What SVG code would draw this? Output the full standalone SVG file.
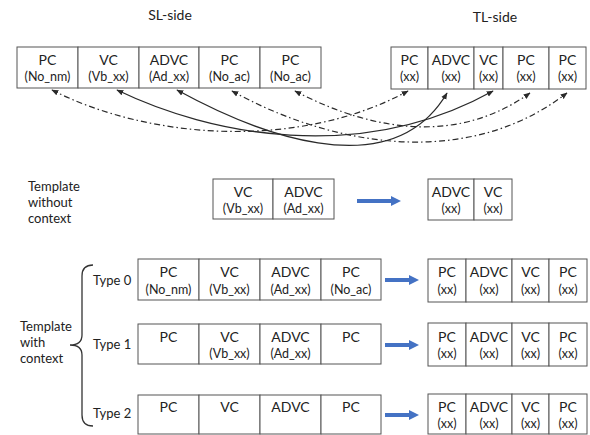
<svg xmlns="http://www.w3.org/2000/svg" width="590" height="435" viewBox="0 0 590 435">
<style>
  text { font-family: Lato, "Open Sans", "Liberation Sans", sans-serif; fill: #222; }
  .t1 { font-size: 14px; text-anchor: middle; }
  .t2 { font-size: 12.5px; text-anchor: middle; }
  .lbl { font-size: 13px; }
  .head { font-size: 14px; text-anchor: middle; }
  .cell { fill: #fff; stroke: #555; stroke-width: 1; }
  .solid { fill: none; stroke: #2a2a2a; stroke-width: 1.3; marker-start: url(#ah); marker-end: url(#ah); }
  .dd { fill: none; stroke: #2a2a2a; stroke-width: 1.2; stroke-dasharray: 6 3 1.5 3; marker-start: url(#ah); marker-end: url(#ah); }
  .blue { stroke: #4472C4; stroke-width: 4; fill: none; marker-end: url(#bh); }
  .brace { fill: none; stroke: #333; stroke-width: 1.3; }
</style>
<defs>
  <marker id="ah" viewBox="0 0 10 10" refX="9" refY="5" markerWidth="7" markerHeight="7" markerUnits="userSpaceOnUse" orient="auto-start-reverse">
    <path d="M0,1 L10,5 L0,9 z" fill="#2a2a2a"/>
  </marker>
  <marker id="bh" viewBox="0 0 10 10" refX="2" refY="5" markerWidth="10" markerHeight="10" markerUnits="userSpaceOnUse" orient="auto">
    <path d="M0,0 L10,5 L0,10 z" fill="#4472C4"/>
  </marker>
</defs>

<text class="head" x="170" y="20">SL-side</text>
<text class="head" x="495" y="22">TL-side</text>

<!-- SL top row -->
<g id="sl-top">
  <rect class="cell" x="17" y="47" width="61" height="41"/>
  <rect class="cell" x="78" y="47" width="61" height="41"/>
  <rect class="cell" x="139" y="47" width="60" height="41"/>
  <rect class="cell" x="199" y="47" width="61" height="41"/>
  <rect class="cell" x="260" y="47" width="61" height="41"/>
  <text class="t1" x="47.5" y="65">PC</text><text class="t2" x="47.5" y="81">(No_nm)</text>
  <text class="t1" x="108.5" y="65">VC</text><text class="t2" x="108.5" y="81">(Vb_xx)</text>
  <text class="t1" x="169" y="65">ADVC</text><text class="t2" x="169" y="81">(Ad_xx)</text>
  <text class="t1" x="229.5" y="65">PC</text><text class="t2" x="229.5" y="81">(No_ac)</text>
  <text class="t1" x="290.5" y="65">PC</text><text class="t2" x="290.5" y="81">(No_ac)</text>
</g>

<!-- TL top row -->
<g id="tl-top">
  <rect class="cell" x="391" y="47" width="37" height="42"/>
  <rect class="cell" x="428" y="47" width="46" height="42"/>
  <rect class="cell" x="474" y="47" width="29" height="42"/>
  <rect class="cell" x="503" y="47" width="46" height="42"/>
  <rect class="cell" x="549" y="47" width="37" height="42"/>
  <text class="t1" x="409.5" y="65">PC</text><text class="t2" x="409.5" y="81">(xx)</text>
  <text class="t1" x="451" y="65">ADVC</text><text class="t2" x="451" y="81">(xx)</text>
  <text class="t1" x="488.5" y="65">VC</text><text class="t2" x="488.5" y="81">(xx)</text>
  <text class="t1" x="526" y="65">PC</text><text class="t2" x="526" y="81">(xx)</text>
  <text class="t1" x="567.5" y="65">PC</text><text class="t2" x="567.5" y="81">(xx)</text>
</g>

<g id="connectors">
  <path class="dd" d="M52,90 C150,140 300,150 408,91"/>
  <path class="solid" d="M117,90 C210,135 360,165 493,91"/>
  <path class="solid" d="M177,90 C250,130 390,190 447,93"/>
  <path class="dd" d="M232,91 C320,140 460,175 567,93"/>
  <path class="dd" d="M295,91 C360,125 450,150 530,93"/>
  <line class="blue" x1="357" y1="201" x2="393" y2="201"/>
  <line class="blue" x1="385" y1="280" x2="411" y2="280"/>
  <line class="blue" x1="385" y1="345" x2="411" y2="345"/>
  <line class="blue" x1="385" y1="415" x2="411" y2="415"/>
</g>

<!-- Template without context -->
<g id="label-without">
  <text class="lbl" x="28" y="191">Template</text>
  <text class="lbl" x="28" y="207">without</text>
  <text class="lbl" x="28" y="223">context</text>
</g>
<g id="wo-sl">
  <rect class="cell" x="213" y="179" width="60" height="40"/>
  <rect class="cell" x="273" y="179" width="61" height="40"/>
  <text class="t1" x="243" y="197">VC</text><text class="t2" x="243" y="213">(Vb_xx)</text>
  <text class="t1" x="303.5" y="197">ADVC</text><text class="t2" x="303.5" y="213">(Ad_xx)</text>
</g>
<g id="wo-tl">
  <rect class="cell" x="428" y="179" width="46" height="41"/>
  <rect class="cell" x="474" y="179" width="38" height="41"/>
  <text class="t1" x="451" y="197">ADVC</text><text class="t2" x="451" y="213">(xx)</text>
  <text class="t1" x="493" y="197">VC</text><text class="t2" x="493" y="213">(xx)</text>
</g>

<!-- Template with context -->
<g id="label-with">
  <text class="lbl" x="20" y="331">Template</text>
  <text class="lbl" x="20" y="347">with</text>
  <text class="lbl" x="20" y="363">context</text>
  <path class="brace" d="M93,265 Q82,265 82,276 L82,335 Q82,345 70,345 Q82,345 82,355 L82,415 Q82,426 93,426"/>
  <text class="lbl" x="93" y="285">Type 0</text>
  <text class="lbl" x="93" y="349">Type 1</text>
  <text class="lbl" x="93" y="418">Type 2</text>
</g>

<g id="type0-sl">
  <rect class="cell" x="138" y="259" width="61" height="41"/>
  <rect class="cell" x="199" y="259" width="61" height="41"/>
  <rect class="cell" x="260" y="259" width="61" height="41"/>
  <rect class="cell" x="321" y="259" width="60" height="41"/>
  <text class="t1" x="168.5" y="277">PC</text><text class="t2" x="168.5" y="294">(No_nm)</text>
  <text class="t1" x="229.5" y="277">VC</text><text class="t2" x="229.5" y="294">(Vb_xx)</text>
  <text class="t1" x="290.5" y="277">ADVC</text><text class="t2" x="290.5" y="294">(Ad_xx)</text>
  <text class="t1" x="351" y="277">PC</text><text class="t2" x="351" y="294">(No_ac)</text>
</g>
<g id="type0-tl">
  <rect class="cell" x="428" y="259" width="38" height="43"/>
  <rect class="cell" x="466" y="259" width="46" height="43"/>
  <rect class="cell" x="512" y="259" width="37" height="43"/>
  <rect class="cell" x="549" y="259" width="38" height="43"/>
  <text class="t1" x="447" y="277">PC</text><text class="t2" x="447" y="294">(xx)</text>
  <text class="t1" x="489" y="277">ADVC</text><text class="t2" x="489" y="294">(xx)</text>
  <text class="t1" x="530.5" y="277">VC</text><text class="t2" x="530.5" y="294">(xx)</text>
  <text class="t1" x="568" y="277">PC</text><text class="t2" x="568" y="294">(xx)</text>
</g>

<g id="type1-sl">
  <rect class="cell" x="138" y="324" width="61" height="40"/>
  <rect class="cell" x="199" y="324" width="61" height="40"/>
  <rect class="cell" x="260" y="324" width="61" height="40"/>
  <rect class="cell" x="321" y="324" width="60" height="40"/>
  <text class="t1" x="168.5" y="342">PC</text>
  <text class="t1" x="229.5" y="342">VC</text><text class="t2" x="229.5" y="358">(Vb_xx)</text>
  <text class="t1" x="290.5" y="342">ADVC</text><text class="t2" x="290.5" y="358">(Ad_xx)</text>
  <text class="t1" x="351" y="342">PC</text>
</g>
<g id="type1-tl">
  <rect class="cell" x="428" y="323" width="38" height="43"/>
  <rect class="cell" x="466" y="323" width="46" height="43"/>
  <rect class="cell" x="512" y="323" width="37" height="43"/>
  <rect class="cell" x="549" y="323" width="38" height="43"/>
  <text class="t1" x="447" y="342">PC</text><text class="t2" x="447" y="358">(xx)</text>
  <text class="t1" x="489" y="342">ADVC</text><text class="t2" x="489" y="358">(xx)</text>
  <text class="t1" x="530.5" y="342">VC</text><text class="t2" x="530.5" y="358">(xx)</text>
  <text class="t1" x="568" y="342">PC</text><text class="t2" x="568" y="358">(xx)</text>
</g>

<g id="type2-sl">
  <rect class="cell" x="138" y="395" width="61" height="39"/>
  <rect class="cell" x="199" y="395" width="61" height="39"/>
  <rect class="cell" x="260" y="395" width="61" height="39"/>
  <rect class="cell" x="321" y="395" width="60" height="39"/>
  <text class="t1" x="168.5" y="412">PC</text>
  <text class="t1" x="229.5" y="412">VC</text>
  <text class="t1" x="290.5" y="412">ADVC</text>
  <text class="t1" x="351" y="412">PC</text>
</g>
<g id="type2-tl">
  <rect class="cell" x="428" y="394" width="38" height="40"/>
  <rect class="cell" x="466" y="394" width="46" height="40"/>
  <rect class="cell" x="512" y="394" width="37" height="40"/>
  <rect class="cell" x="549" y="394" width="38" height="40"/>
  <text class="t1" x="447" y="412">PC</text><text class="t2" x="447" y="428">(xx)</text>
  <text class="t1" x="489" y="412">ADVC</text><text class="t2" x="489" y="428">(xx)</text>
  <text class="t1" x="530.5" y="412">VC</text><text class="t2" x="530.5" y="428">(xx)</text>
  <text class="t1" x="568" y="412">PC</text><text class="t2" x="568" y="428">(xx)</text>
</g>
</svg>
